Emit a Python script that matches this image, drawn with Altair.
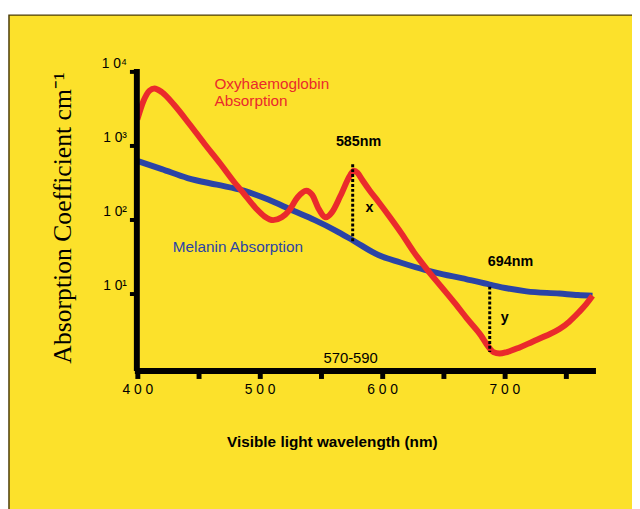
import altair as alt
import pandas as pd

# ---- data ----
red_nm = [400, 405, 410, 414, 420, 430, 443, 455, 468, 478, 487, 497, 504, 511, 518, 524, 531, 538,
          543, 548, 554, 559, 566, 574, 577, 580, 584, 590, 597, 606, 616, 626, 637, 648, 659, 670, 681,
          686, 691, 696, 702, 712, 723, 734, 745, 753, 761, 767, 772]
red_val = [2240, 3980, 5500, 5890, 5250, 3550, 1905, 1047, 562, 339, 224, 141, 110, 98, 107, 132, 200, 245,
           214, 141, 107, 125, 209, 398, 457, 427, 339, 245, 174, 110, 64.6, 36.3, 20.9, 12.6, 7.6, 4.47, 2.69,
           2.0, 1.62, 1.55, 1.62, 1.86, 2.24, 2.69, 3.31, 4.17, 5.62, 7.24, 9.33]

blue_nm = [400, 420, 441, 465, 487, 507, 527, 545, 562, 576, 597, 615, 635, 650, 665, 688, 703, 718, 745, 760, 772]
blue_val = [617, 479, 363, 295, 245, 186, 132, 98, 71, 52.5, 33.1, 26.3, 20.9, 18.2, 16.2, 13.2, 11.7, 10.7, 10.0, 9.55, 9.33]

x_ticks = [400, 450, 500, 550, 600, 650, 700, 750]
x_label_vals = [400, 500, 600, 700]
x_label_txt = ["4 0 0", "5 0 0", "6 0 0", "7 0 0"]

y_ticks = [10, 100, 1000, 10000]
y_label_txt = ["1 0\u00b9", "1 0\u00b2", "1 0\u00b3", "1 0\u2074"]

red_text = ["Oxyhaemoglobin", "Absorption"]
red_text_nm = [463, 463]
red_text_val = [6710, 3980]

blue_text = ["Melanin Absorption"]
blue_text_nm = [429]
blue_text_val = [42.4]

bold_text = ["585nm", "x", "694nm", "y"]
bold_text_nm = [580.8, 589.7, 705, 700.2]
bold_text_val = [1096, 144.5, 26.7, 4.64]

plain_text = ["570-590"]
plain_text_nm = [574.3]
plain_text_val = [1.36]

dot_nm = [576, 688]
dot_top = [558, 12.4]
dot_bot = [47.9, 1.63]

# ---- helpers ----
x_expr = " : ".join(f"datum.value == {v} ? '{t}'" for v, t in zip(x_label_vals, x_label_txt)) + " : ''"
y_expr = " : ".join(f"datum.value == {v} ? '{t}'" for v, t in zip(y_ticks, y_label_txt)) + " : ''"

YELLOW = "#FCE12B"
RED = "#EA2A2C"
BLUE = "#2B44A6"

x_scale = alt.Scale(domain=[400, 772], nice=False, zero=False)
y_scale = alt.Scale(type="log", domain=[1, 10000], nice=False)

x_axis = alt.Axis(
    values=x_ticks, labelExpr=x_expr, grid=False, offset=3, zindex=1, labelFlush=False,
    domainWidth=6, domainColor="black", domainCap="square",
    tickColor="black", tickWidth=5, tickSize=8,
    labelFont="Liberation Sans", labelFontSize=14, labelColor="black", labelPadding=4,
    title="Visible light wavelength (nm)", titleFont="Liberation Sans", titleFontSize=15.5,
    titleFontWeight="bold", titleColor="black", titleX=197, titleY=72,
    titleAlign="center", titleBaseline="middle",
)
y_axis = alt.Axis(
    values=y_ticks, labelExpr=y_expr, grid=False, offset=1, zindex=1, labelFlush=False,
    domainWidth=6, domainColor="black", domainCap="square",
    tickColor="black", tickWidth=4, tickSize=7,
    labelFont="Liberation Sans", labelFontSize=14, labelColor="black", labelPadding=3, labelOffset=-8,
    title="Absorption Coefficient cm\u207b\u00b9", titleFont="Liberation Serif", titleFontSize=26,
    titleFontWeight="normal", titleColor="black", titleAngle=270, titleX=-75, titleY=148,
    titleAlign="center", titleBaseline="middle",
)

X = alt.X("nm:Q", scale=x_scale, axis=x_axis)
Y = alt.Y("val:Q", scale=y_scale, axis=y_axis)

bg = alt.Chart(pd.DataFrame({"a": [0]})).mark_rect(
    fill=YELLOW, stroke="#4a3c0a", strokeWidth=1.5
).encode(x=alt.value(-130), x2=alt.value(510), y=alt.value(-57), y2=alt.value(445))

blue = alt.Chart(pd.DataFrame({"nm": blue_nm, "val": blue_val})).mark_line(
    color=BLUE, strokeWidth=6, interpolate="monotone"
).encode(x=X, y=Y)

red = alt.Chart(pd.DataFrame({"nm": red_nm, "val": red_val})).mark_line(
    color=RED, strokeWidth=6, interpolate="monotone"
).encode(x=X, y=Y)

dots = alt.Chart(pd.DataFrame({"nm": dot_nm, "val": dot_top, "val2": dot_bot})).mark_rule(
    color="black", strokeWidth=3, strokeDash=[3, 2]
).encode(x=X, y=Y, y2="val2:Q")

def text_layer(txt, nm, val, color, size, weight, align):
    return alt.Chart(pd.DataFrame({"t": txt, "nm": nm, "val": val})).mark_text(
        font="Liberation Sans", fontSize=size, fontWeight=weight, color=color,
        align=align, baseline="middle"
    ).encode(x=X, y=Y, text="t:N")

t_red = text_layer(red_text, red_text_nm, red_text_val, RED, 15.5, "normal", "left")
t_blue = text_layer(blue_text, blue_text_nm, blue_text_val, BLUE, 15.5, "normal", "left")
t_bold = text_layer(bold_text, bold_text_nm, bold_text_val, "black", 14.5, "bold", "center")
t_plain = text_layer(plain_text, plain_text_nm, plain_text_val, "black", 15, "normal", "center")

chart = alt.layer(bg, blue, red, dots, t_red, t_blue, t_bold, t_plain).properties(
    width=461, height=300,
    autosize=alt.AutoSizeParams(type="none"),
    padding={"left": 131, "top": 61, "right": 40, "bottom": 140},
).configure_view(stroke=None).configure(background="white")

chart.save("out.html", embed_options={"renderer": "svg", "actions": False})
